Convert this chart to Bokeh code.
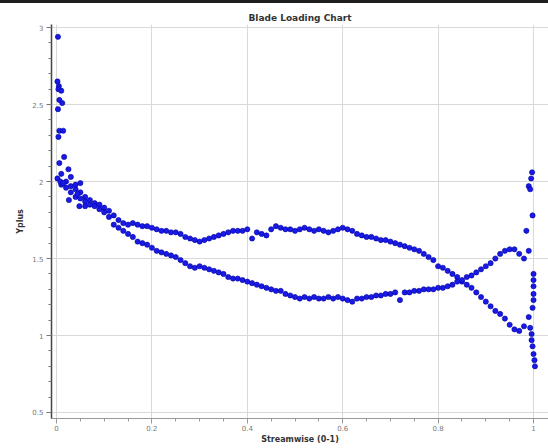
from bokeh.plotting import figure
from bokeh.models import Range1d, FixedTicker, Div
from bokeh.layouts import column
from bokeh.embed import file_html
from bokeh.resources import INLINE

# ---- data ----
upper_x = [0.01, 0.02, 0.03, 0.04, 0.05, 0.06, 0.07, 0.08, 0.09, 0.10,
           0.11, 0.12, 0.13, 0.14, 0.15, 0.16, 0.17, 0.18, 0.19, 0.20,
           0.21, 0.22, 0.23, 0.24, 0.25, 0.26, 0.27, 0.28, 0.29, 0.30,
           0.31, 0.32, 0.33, 0.34, 0.35, 0.36, 0.37, 0.38, 0.39, 0.40,
           0.41, 0.42, 0.43, 0.44, 0.45, 0.46, 0.47, 0.48, 0.49, 0.50,
           0.51, 0.52, 0.53, 0.54, 0.55, 0.56, 0.57, 0.58, 0.59, 0.60,
           0.61, 0.62, 0.63, 0.64, 0.65, 0.66, 0.67, 0.68, 0.69, 0.70,
           0.71, 0.72, 0.73, 0.74, 0.75, 0.76, 0.77, 0.78, 0.79, 0.80,
           0.81, 0.82, 0.83, 0.84, 0.85, 0.86, 0.87, 0.88, 0.89, 0.90,
           0.91, 0.92, 0.93, 0.94, 0.95, 0.96, 0.97, 0.98, 0.99]
upper_y = [2.05, 2.00, 1.97, 1.95, 1.93, 1.90, 1.88, 1.86, 1.85, 1.83,
           1.81, 1.78, 1.75, 1.73, 1.72, 1.73, 1.72, 1.71, 1.71, 1.70,
           1.69, 1.68, 1.68, 1.67, 1.67, 1.66, 1.64, 1.63, 1.62, 1.61,
           1.62, 1.63, 1.64, 1.65, 1.66, 1.67, 1.68, 1.68, 1.68, 1.69,
           1.63, 1.67, 1.66, 1.65, 1.69, 1.71, 1.70, 1.69, 1.69, 1.68,
           1.69, 1.70, 1.69, 1.68, 1.69, 1.68, 1.67, 1.68, 1.69, 1.70,
           1.69, 1.68, 1.66, 1.65, 1.64, 1.64, 1.63, 1.62, 1.62, 1.61,
           1.60, 1.59, 1.58, 1.57, 1.56, 1.55, 1.53, 1.51, 1.49, 1.45,
           1.44, 1.42, 1.40, 1.38, 1.35, 1.33, 1.31, 1.28, 1.25, 1.22,
           1.19, 1.16, 1.14, 1.11, 1.07, 1.04, 1.03, 1.06, 1.12]

lower_x = upper_x
lower_y = [1.98, 1.96, 1.93, 1.90, 1.89, 1.87, 1.85, 1.84, 1.82, 1.80,
           1.77, 1.72, 1.70, 1.68, 1.66, 1.64, 1.61, 1.60, 1.59, 1.57,
           1.55, 1.54, 1.53, 1.52, 1.51, 1.49, 1.47, 1.45, 1.44, 1.45,
           1.44, 1.43, 1.42, 1.41, 1.40, 1.38, 1.37, 1.37, 1.36, 1.35,
           1.34, 1.33, 1.32, 1.31, 1.30, 1.29, 1.29, 1.27, 1.26, 1.25,
           1.24, 1.25, 1.24, 1.25, 1.24, 1.24, 1.25, 1.24, 1.25, 1.24,
           1.23, 1.22, 1.24, 1.24, 1.25, 1.25, 1.26, 1.26, 1.27, 1.27,
           1.28, 1.23, 1.28, 1.28, 1.29, 1.29, 1.30, 1.30, 1.30, 1.31,
           1.31, 1.32, 1.33, 1.35, 1.36, 1.38, 1.39, 1.41, 1.43, 1.45,
           1.47, 1.50, 1.53, 1.55, 1.56, 1.56, 1.53, 1.50, 1.55]

le_x = [0.003, 0.002, 0.005, 0.004, 0.010, 0.006, 0.012, 0.003, 0.006, 0.014,
        0.004, 0.016, 0.006, 0.025, 0.002, 0.008, 0.014, 0.030, 0.040, 0.050,
        0.026, 0.044, 0.048, 0.060]
le_y = [2.94, 2.65, 2.62, 2.60, 2.59, 2.53, 2.51, 2.47, 2.33, 2.33,
        2.29, 2.16, 2.12, 2.08, 2.02, 2.00, 1.99, 2.03, 1.98, 1.99,
        1.88, 1.92, 1.84, 1.84]

te_x = [0.997, 0.995, 0.990, 0.993, 0.998, 0.985, 1.000, 1.000, 1.000, 1.000,
        1.000, 0.998, 0.993, 0.996, 0.996, 0.998, 1.000, 1.002, 1.003]
te_y = [2.06, 2.02, 1.97, 1.95, 1.78, 1.68, 1.40, 1.36, 1.32, 1.27,
        1.23, 1.18, 1.05, 1.01, 0.97, 0.93, 0.88, 0.84, 0.80]

x_ticks = [0, 0.2, 0.4, 0.6, 0.8, 1]
y_ticks = [0.5, 1, 1.5, 2, 2.5, 3]

xs = upper_x + lower_x + le_x + te_x
ys = upper_y + lower_y + le_y + te_y

p = figure(width=548, height=445, frame_width=497, frame_height=394,
           output_backend="svg", toolbar_location=None,
           title="Blade Loading Chart",
           x_range=Range1d(-0.0105, 1.0314), y_range=Range1d(0.461, 3.02),
           min_border_left=51, min_border_right=0, min_border_top=21,
           min_border_bottom=30)

p.title.align = "center"
p.title.text_font = "DejaVu Sans"
p.title.text_font_size = "9px"
p.title.text_font_style = "bold"
p.title.text_color = "#333333"
p.title.standoff = 3
p.title.offset = 20

p.scatter(xs, ys, size=5.2, fill_color="#1a1ae6", line_color="#0000a0",
          line_width=0.6)

p.xaxis.ticker = FixedTicker(ticks=x_ticks,
                             minor_ticks=[i * 0.05 for i in range(21)])
p.yaxis.ticker = FixedTicker(ticks=y_ticks,
                             minor_ticks=[0.5 + i * 0.1 for i in range(26)])

for ax in (p.xaxis[0], p.yaxis[0]):
    ax.major_label_text_font = "DejaVu Sans"
    ax.major_label_text_font_size = "7px"
    ax.major_label_text_color = "#777777"
    ax.axis_label_text_font = "DejaVu Sans"
    ax.axis_label_text_font_size = "8px"
    ax.axis_label_text_font_style = "bold"
    ax.axis_label_text_color = "#333333"
    ax.major_tick_out = 5
    ax.major_tick_in = 0
    ax.minor_tick_out = 3
    ax.minor_tick_in = 0
    ax.axis_label_standoff = 4
    ax.major_label_standoff = 3

p.xaxis.major_label_standoff = 1
p.xaxis.axis_label_standoff = 1

p.xaxis.axis_label = "Streamwise (0-1)"
p.yaxis.axis_label = "Yplus"
p.xaxis.axis_line_color = "#999999"
p.xaxis.major_tick_line_color = "#999999"
p.xaxis.minor_tick_line_color = "#999999"
p.yaxis.axis_line_color = "#444444"
p.yaxis.axis_line_width = 1.5
p.yaxis.major_tick_line_color = "#777777"
p.yaxis.minor_tick_line_color = "#777777"

p.xgrid.grid_line_color = "#d9d9d9"
p.ygrid.grid_line_color = "#d9d9d9"
p.outline_line_color = None
p.background_fill_color = "white"
p.border_fill_color = "white"

bar = Div(text="", width=548, height=3, margin=0,
          styles={"background-color": "#1e1e1e"})

layout = column(bar, p, spacing=0)
open("out.html", "w").write(file_html(layout, INLINE))
